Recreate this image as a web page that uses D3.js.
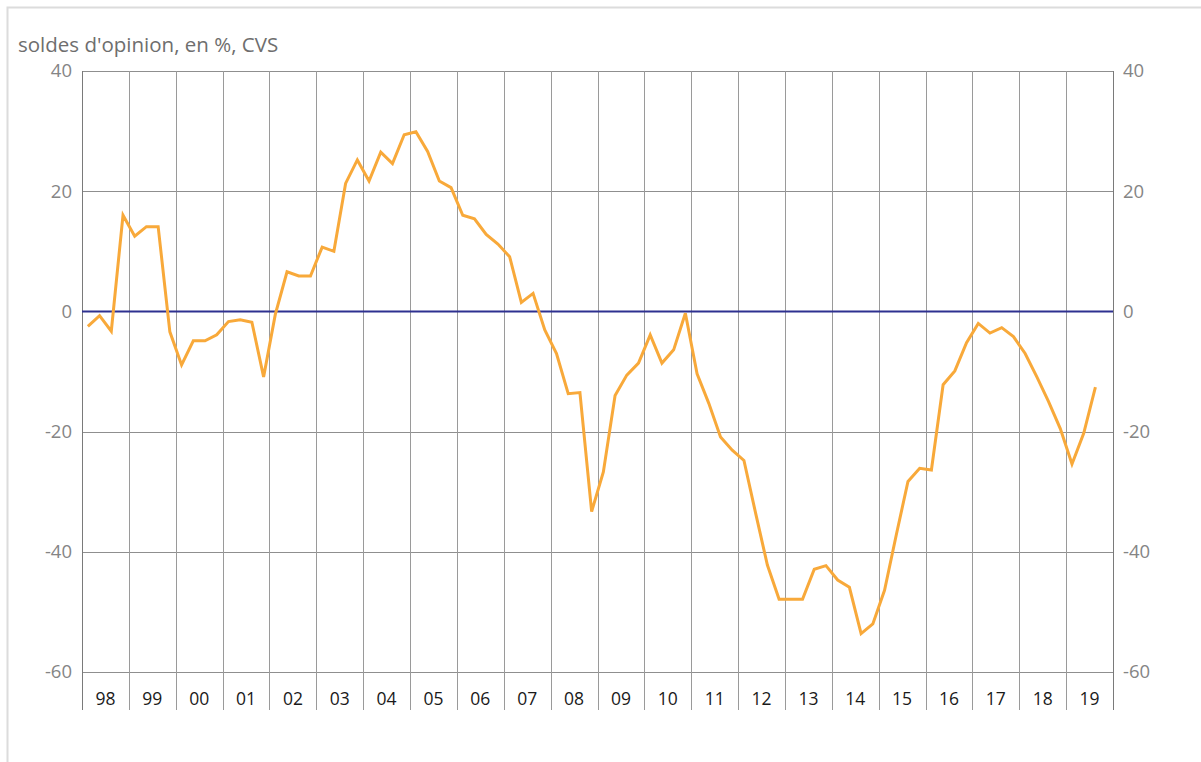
<!DOCTYPE html>
<html>
<head>
<meta charset="utf-8">
<script src="https://cdn.jsdelivr.net/npm/d3@7"></script>
<style>
	body { margin: 0; background: #fff; }
	svg { display: block; font-family: 'Open Sans', 'Noto Sans', sans-serif; }
</style>
</head>
<body>
<div id="chart"></div>
<script>
var years = ['98', '99', '00', '01', '02', '03', '04', '05', '06', '07', '08',
	'09', '10', '11', '12', '13', '14', '15', '16', '17', '18', '19'];

var yTicks = [40, 20, 0, -20, -40, -60];

// quarterly values, 1998 Q1 to 2019 Q3
var soldes = [
	-2.5, -0.7, -3.3, 16.0,
	12.5, 14.1, 14.1, -3.4,
	-8.9, -4.9, -4.9, -3.9,
	-1.7, -1.4, -1.8, -10.9,
	-0.5, 6.6, 5.9, 5.9,
	10.7, 10.0, 21.3, 25.2,
	21.7, 26.5, 24.6, 29.4,
	29.9, 26.6, 21.7, 20.6,
	16.0, 15.4, 12.8, 11.2,
	9.1, 1.5, 3.0, -3.1,
	-7.0, -13.7, -13.5, -33.3,
	-26.7, -14.0, -10.6, -8.6,
	-3.9, -8.6, -6.4, -0.3,
	-10.4, -15.3, -20.9, -23.1,
	-24.8, -33.6, -42.2, -47.9,
	-47.9, -47.9, -42.9, -42.3,
	-44.7, -45.9, -53.6, -52.0,
	-46.4, -37.2, -28.3, -26.1,
	-26.4, -12.2, -9.9, -5.2,
	-2.0, -3.6, -2.7, -4.2,
	-7.0, -10.9, -15.0, -19.5,
	-25.4, -20.3, -12.6
];

var width = 1201,
	height = 762,
	margin = {top: 71, bottom: 90, left: 82, right: 88};

var svg = d3.select('#chart')
	.append('svg')
	.attr('width', width)
	.attr('height', height);

// light outer frame
svg.append('rect')
	.attr('x', 7.5)
	.attr('y', 7.5)
	.attr('width', width + 20)
	.attr('height', height + 20)
	.attr('fill', 'none')
	.attr('stroke', '#dcdcdc')
	.attr('stroke-width', 2);

var x = d3.scaleBand()
	.domain(years)
	.range([margin.left, width - margin.right]);

var xq = d3.scaleLinear()
	.domain([0, years.length * 4])
	.range([margin.left, width - margin.right]);

var y = d3.scaleLinear()
	.domain([-60, 40])
	.range([672, margin.top]);

var left = margin.left,
	right = width - margin.right,
	axisBottom = 710;

// horizontal grid
svg.append('g')
	.selectAll('line')
	.data(yTicks.filter(function(d) { return d !== 0; }))
	.enter()
	.append('line')
	.attr('x1', left)
	.attr('x2', right)
	.attr('y1', function(d) { return Math.round(y(d)) + 0.5; })
	.attr('y2', function(d) { return Math.round(y(d)) + 0.5; })
	.attr('stroke', '#8f8f8f')
	.attr('stroke-width', 1);

// vertical year separators, running down through the label strip
var bounds = years.map(function(d) { return x(d); }).concat([right]);

svg.append('g')
	.selectAll('line')
	.data(bounds)
	.enter()
	.append('line')
	.attr('x1', function(d) { return Math.round(d) + 0.5; })
	.attr('x2', function(d) { return Math.round(d) + 0.5; })
	.attr('y1', margin.top)
	.attr('y2', axisBottom)
	.attr('stroke', function(d, i) { return (i === 0 || i === bounds.length - 1) ? '#7a7a7a' : '#9a9a9a'; })
	.attr('stroke-width', 1);

// zero line
svg.append('line')
	.attr('x1', left)
	.attr('x2', right)
	.attr('y1', y(0))
	.attr('y2', y(0))
	.attr('stroke', '#2e3190')
	.attr('stroke-width', 2);

// year labels
svg.append('g')
	.selectAll('text')
	.data(years)
	.enter()
	.append('text')
	.attr('x', function(d) { return x(d) + x.bandwidth() / 2; })
	.attr('y', 699)
	.attr('dy', '0.35em')
	.attr('text-anchor', 'middle')
	.style('font-size', '17.5px')
	.style('fill', '#1a1a1a')
	.text(function(d) { return d; });

// y labels, both sides
svg.append('g')
	.selectAll('text')
	.data(yTicks)
	.enter()
	.append('text')
	.attr('x', left - 10)
	.attr('y', function(d) { return y(d); })
	.attr('dy', '0.35em')
	.attr('text-anchor', 'end')
	.style('font-size', '18.5px')
	.style('fill', '#858585')
	.text(function(d) { return d; });

svg.append('g')
	.selectAll('text')
	.data(yTicks)
	.enter()
	.append('text')
	.attr('x', right + 10)
	.attr('y', function(d) { return y(d); })
	.attr('dy', '0.35em')
	.attr('text-anchor', 'start')
	.style('font-size', '18.5px')
	.style('fill', '#858585')
	.text(function(d) { return d; });

// series
var line = d3.line()
	.x(function(d, i) { return xq(i + 0.5); })
	.y(function(d) { return y(d); });

svg.append('path')
	.datum(soldes)
	.attr('d', line)
	.attr('fill', 'none')
	.attr('stroke', '#f8a93a')
	.attr('stroke-width', 3)
	.attr('stroke-linejoin', 'miter');

svg.append('text')
	.attr('x', 18)
	.attr('y', 52)
	.style('font-size', '20.5px')
	.style('fill', '#6e6e6e')
	.text("soldes d'opinion, en %, CVS");
</script>
</body>
</html>
